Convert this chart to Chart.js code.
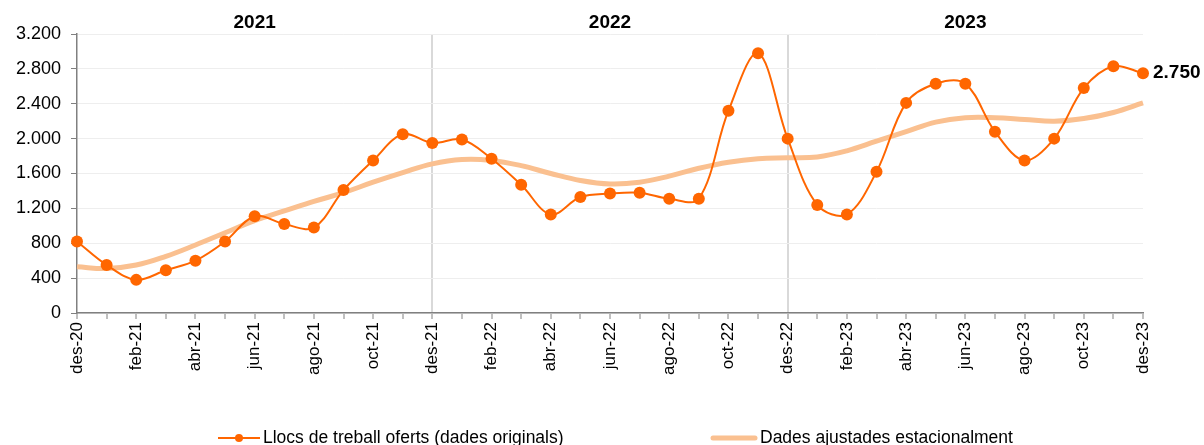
<!DOCTYPE html>
<html>
<head>
<meta charset="utf-8">
<script src="https://cdn.jsdelivr.net/npm/chart.js@4.4.1/dist/chart.umd.min.js"></script>
<style>
  html, body { margin:0; padding:0; background:#fff; }
  #wrap { width:1204px; height:445px; position:relative; }
</style>
</head>
<body>
<div id="wrap"><canvas id="grafic" width="1204" height="445"></canvas></div>
<script>
// dades llegides del gràfic
const mesos = [
  "des-20","gen-21","feb-21","mar-21","abr-21","mai-21","jun-21","jul-21","ago-21","set-21","oct-21","nov-21",
  "des-21","gen-22","feb-22","mar-22","abr-22","mai-22","jun-22","jul-22","ago-22","set-22","oct-22","nov-22",
  "des-22","gen-23","feb-23","mar-23","abr-23","mai-23","jun-23","jul-23","ago-23","set-23","oct-23","nov-23",
  "des-23"
];
const originals = [
  820, 550, 380, 490, 600, 820, 1110, 1020, 980, 1410, 1750, 2050,
  1950, 1990, 1770, 1470, 1130, 1330, 1370, 1380, 1310, 1310, 2320, 2980,
  2000, 1240, 1130, 1620, 2410, 2630, 2630, 2080, 1750, 2000, 2580, 2830,
  2750
];
const ajustades = [
  530, 510, 550, 650, 780, 920, 1060, 1170, 1280, 1380, 1500, 1610,
  1710, 1760, 1750, 1690, 1600, 1520, 1480, 1500, 1570, 1660, 1730, 1770,
  1780, 1790, 1860, 1970, 2080, 2190, 2240, 2240, 2220, 2200, 2230, 2300,
  2410
];
const anys = ["2021", "2022", "2023"];
const nomsSeries = ["Llocs de treball oferts (dades originals)", "Dades ajustades estacionalment"];

const TARONJA = "#FF6600";
const PRESSEC = "#FAC090";
const FONT = "'Liberation Sans', Arial, sans-serif";

const milers = (v) => String(v).replace(/\B(?=(\d{3})+(?!\d))/g, ".");

const extres = {
  id: "extres",
  afterDraw(chart){
    const ctx = chart.ctx;
    const x = chart.scales.x;
    ctx.save();
    // anys a dalt
    ctx.fillStyle = "#000";
    ctx.font = `bold 19px ${FONT}`;
    ctx.textAlign = "center";
    ctx.textBaseline = "middle";
    anys.forEach((a, i) => {
      const x0 = x.getPixelForValue(i * 12), x1 = x.getPixelForValue((i + 1) * 12);
      ctx.fillText(a, (x0 + x1) / 2, 23);
    });
    // etiqueta de l'últim valor
    const meta = chart.getDatasetMeta(0);
    const ult = meta.data[meta.data.length - 1];
    ctx.textAlign = "left";
    ctx.fillText(milers(originals[originals.length - 1]), ult.x + 10, ult.y);
    // llegenda
    const ly = 438;
    ctx.font = `17.5px ${FONT}`;
    ctx.fillStyle = "#000";
    ctx.strokeStyle = TARONJA; ctx.lineWidth = 2;
    ctx.beginPath(); ctx.moveTo(218, ly); ctx.lineTo(260, ly); ctx.stroke();
    ctx.fillStyle = TARONJA;
    ctx.beginPath(); ctx.arc(239, ly, 4, 0, Math.PI * 2); ctx.fill();
    ctx.fillStyle = "#000";
    ctx.fillText(nomsSeries[0], 263, ly);
    ctx.strokeStyle = PRESSEC; ctx.lineWidth = 5; ctx.lineCap = "round";
    ctx.beginPath(); ctx.moveTo(713, ly); ctx.lineTo(755, ly); ctx.stroke();
    ctx.fillText(nomsSeries[1], 760, ly);
    ctx.restore();
  }
};

new Chart(document.getElementById("grafic"), {
  type: "line",
  data: {
    labels: mesos,
    datasets: [
      { label: nomsSeries[0], data: originals, borderColor: TARONJA, backgroundColor: TARONJA,
        borderWidth: 2, pointRadius: 6, pointHoverRadius: 6, pointBorderWidth: 0, tension: 0.35 },
      { label: nomsSeries[1], data: ajustades, borderColor: PRESSEC, backgroundColor: PRESSEC,
        borderWidth: 5, pointRadius: 0, tension: 0.4 }
    ]
  },
  options: {
    responsive: false,
    animation: false,
    layout: { padding: { top: 34, right: 61, left: 0, bottom: 0 } },
    plugins: { legend: { display: false }, tooltip: { enabled: false } },
    scales: {
      x: {
        afterFit: (s) => { s.height = 132; },
        border: { color: "#808080", width: 1.5 },
        grid: {
          color: (c) => (c.index === 12 || c.index === 24) ? "#d9d9d9" : "rgba(0,0,0,0)",
          lineWidth: 2, tickColor: "#808080", tickWidth: 1, tickLength: 6
        },
        ticks: {
          autoSkip: false, minRotation: 90, maxRotation: 90, padding: 3,
          color: "#000", font: { family: FONT, size: 17 },
          callback: function(v, i){ return i % 2 === 0 ? this.getLabelForValue(v) : ""; }
        }
      },
      y: {
        min: 0, max: 3200,
        afterFit: (s) => { s.width = 77; },
        border: { color: "#808080", width: 1.5 },
        grid: { color: "#eeeeee", lineWidth: 1, tickColor: "#808080", tickLength: 6 },
        ticks: { stepSize: 400, padding: 10, color: "#000", font: { family: FONT, size: 18 }, callback: (v) => milers(v) }
      }
    }
  },
  plugins: [extres]
});
</script>
</body>
</html>
